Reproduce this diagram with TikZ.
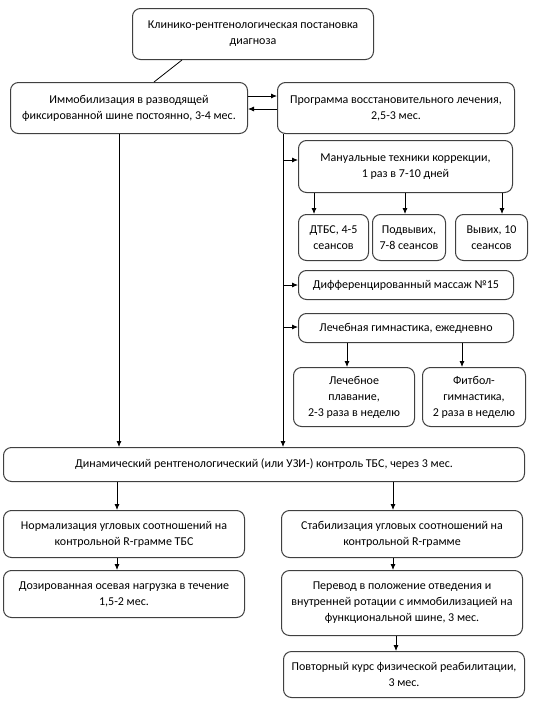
\documentclass[tikz,border=0pt]{standalone}
\usepackage{fontspec}
\setmainfont{Carlito}
\usetikzlibrary{arrows.meta,calc}
\begin{document}
\begin{tikzpicture}[x=1pt,y=-1pt,
  box/.style={draw=black!75, line width=1pt, rounded corners=8pt, anchor=north west,
    align=center, inner sep=0pt, font=\fontsize{12}{16}\selectfont},
  arr/.style={-{Latex[length=6pt,width=5pt]}, line width=0.8pt, black},
  ln/.style={line width=0.8pt, black}]
\useasboundingbox (0,0) rectangle (538,707);
\newcommand{\bx}[6]{\node[box, minimum width=#4-#2, minimum height=#5-#3] (#1) at (#2,#3) {#6};}
\bx{top}{132}{8}{373}{59}{Клинико-рентгенологическая постановка\\диагноза}
\bx{immob}{10}{82}{247}{133}{Иммобилизация в разводящей\\фиксированной шине постоянно, 3-4 мес.}
\bx{prog}{277}{82}{514}{133}{Программа восстановительного лечения,\\2,5-3 мес.}
\bx{manual}{298}{140}{512}{192}{Мануальные техники коррекции,\\1 раз в 7-10 дней}
\bx{dtbs}{298}{214}{368}{260}{ДТБС, 4-5\\сеансов}
\bx{podv}{372}{214}{445}{260}{Подвывих,\\7-8 сеансов}
\bx{vyv}{455}{214}{527}{260}{Вывих, 10\\сеансов}
\bx{mass}{298}{270}{513}{299}{Дифференцированный массаж №15}
\bx{lfk}{298}{313}{513}{342}{Лечебная гимнастика, ежедневно}
\bx{plav}{293}{367}{414}{426}{Лечебное\\плавание,\\2-3 раза в неделю}
\bx{fit}{422}{367}{525}{426}{Фитбол-\\гимнастика,\\2 раза в неделю}
\bx{dyn}{3}{447}{524}{481}{Динамический рентгенологический (или УЗИ-) контроль ТБС, через 3 мес.}
\bx{norm}{3}{510}{244}{557}{Нормализация угловых соотношений на\\контрольной R-грамме ТБС}
\bx{stab}{281}{510}{522}{557}{Стабилизация угловых соотношений на\\контрольной R-грамме}
\bx{doz}{3}{570}{244}{617}{Дозированная осевая нагрузка в течение\\1,5-2 мес.}
\bx{perev}{281}{570}{522}{635}{Перевод в положение отведения и\\внутренней ротации с иммобилизацией на\\функциональной шине, 3 мес.}
\bx{povt}{283}{651}{524}{697}{Повторный курс физической реабилитации,\\3 мес.}
% connectors
\draw[ln] (top.south -| 182,0) -- (immob.north -| 154,0);
\draw[arr] (immob.east |- 0,96) -- (prog.west |- 0,96);
\draw[arr] (prog.west |- 0,109) -- (immob.east |- 0,109);
\draw[arr] (immob.south -| 119,0) -- (dyn.north -| 119,0);
\draw[arr] (prog.south -| 283,0) -- (dyn.north -| 283,0);
\coordinate (b1) at (283,160);
\coordinate (b2) at (283,285);
\coordinate (b3) at (283,327);
\draw[arr] (b1) -- (manual.west |- b1);
\draw[arr] (b2) -- (mass.west |- b2);
\draw[arr] (b3) -- (lfk.west |- b3);
\draw[arr] (manual.south -| 314,0) -- (dtbs.north -| 314,0);
\draw[arr] (manual.south -| 405,0) -- (podv.north -| 405,0);
\draw[arr] (manual.south -| 502,0) -- (vyv.north -| 502,0);
\draw[arr] (lfk.south -| 347,0) -- (plav.north -| 347,0);
\draw[arr] (lfk.south -| 462,0) -- (fit.north -| 462,0);
\draw[arr] (dyn.south -| 117,0) -- (norm.north -| 117,0);
\draw[arr] (dyn.south -| 393,0) -- (stab.north -| 393,0);
\draw[arr] (norm.south -| 117,0) -- (doz.north -| 117,0);
\draw[arr] (stab.south -| 393,0) -- (perev.north -| 393,0);
\draw[arr] (perev.south -| 396,0) -- (povt.north -| 396,0);
\end{tikzpicture}
\end{document}
